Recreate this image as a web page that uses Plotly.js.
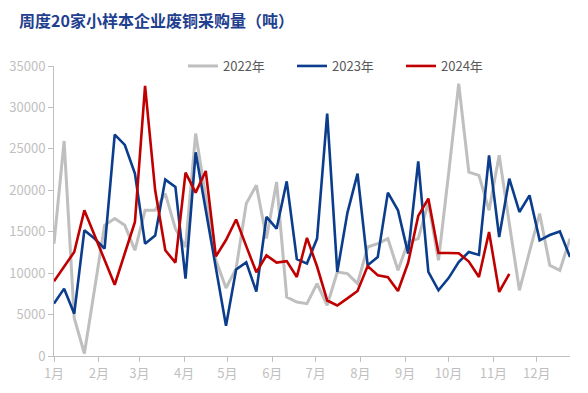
<!DOCTYPE html>
<html>
<head>
<meta charset="utf-8">
<script src="https://cdn.plot.ly/plotly-3.0.1.min.js"></script>
<style>html,body{margin:0;padding:0;background:#fff;}#chart{width:588px;height:393px;}</style>
</head>
<body>
<div id="chart"></div>
<script>
// Week index (1..52) of each weekly observation
const weeks = Array.from({length: 52}, (_, i) => i + 1);

const series2022 = [13560, 25950, 4600, 300, 8000, 15770, 16580, 15770, 12760, 17580,
  17580, 19600, 15370, 13150, 26840, 19300, 11550, 8200, 10550, 18390,
  20600, 14170, 21000, 7120, 6520, 6320, 8740, 6120, 10140, 9940,
  8740, 13150, 13560, 14170, 10340, 13760, 14170, 18500, 11550, 22000,
  32870, 22200, 21800, 17580, 24220, 16000, 7930, 12600, 17180, 10950,
  10340, 14170];

const series2023 = [6320, 8130, 5110, 15170, 14170, 12960, 26720, 25470, 22010, 13560,
  14530, 21290, 20400, 9340, 24580, 17700, 10700, 3650, 10450, 11300,
  7770, 16780, 15370, 21080, 11700, 11150, 14170, 29250, 10140, 17280,
  22010, 10950, 11950, 19720, 17580, 12360, 23500, 10140, 7930, 9400,
  11350, 12550, 12200, 24220, 14360, 21410, 17380, 19390, 13960, 14600,
  15030, 11950];

const series2024 = [9020, 10800, 12550, 17580, 14650, 11550, 8600, 12400, 16170, 32590,
  20000, 12760, 11270, 22130, 19720, 22330, 12030, 14000, 16480, 13260,
  10100, 12150, 11270, 11450, 9540, 14260, 10800, 6700, 6100, 6950,
  7850, 10850, 9740, 9500, 7850, 11250, 16900, 19000, 12430, 12430,
  12400, 11400, 9540, 14970, 7730, 9900];

const seriesNames = ['2022年', '2023年', '2024年'];
const monthTickDates = ['2023-01-01','2023-02-01','2023-03-01','2023-04-01','2023-05-01','2023-06-01',
  '2023-07-01','2023-08-01','2023-09-01','2023-10-01','2023-11-01','2023-12-01'];
const monthLabels = ['1月','2月','3月','4月','5月','6月','7月','8月','9月','10月','11月','12月'];
const yTicks = [0, 5000, 10000, 15000, 20000, 25000, 30000, 35000];

// Map week index to a date on a common (non-leap) calendar year
function weekDate(w) {
  const d = new Date(Date.UTC(2023, 0, 1 + 7 * (w - 1)));
  return d.toISOString().slice(0, 10);
}
const xDates = weeks.map(weekDate);

const colors = ['#bfbfbf', '#0b3d8c', '#c00000'];
const widths = [3, 2.6, 2.6];
const data = [series2022, series2023, series2024].map((vals, k) => ({
  type: 'scatter',
  mode: 'lines',
  name: seriesNames[k],
  x: xDates.slice(0, vals.length),
  y: vals,
  line: {color: colors[k], width: widths[k]},
  hoverinfo: 'skip'
}));

const layout = {
  width: 588,
  height: 393,
  margin: {l: 54, r: 18, t: 66, b: 37},
  paper_bgcolor: '#ffffff',
  plot_bgcolor: '#ffffff',
  font: {family: '"Noto Sans CJK SC", "Noto Sans", sans-serif', color: '#bfbfbf', size: 13},
  title: {
    text: '<b>周度20家小样本企业废铜采购量（吨）</b>',
    x: 19 / 588, xanchor: 'left', xref: 'container',
    y: 1 - 21 / 393, yanchor: 'middle', yref: 'container',
    font: {family: '"Noto Sans CJK SC", sans-serif', size: 16, color: '#1f3f8f'}
  },
  showlegend: true,
  legend: {
    orientation: 'h',
    x: (183 - 54) / 516, xanchor: 'left',
    y: 1.0, yanchor: 'middle',
    font: {size: 13, color: '#595959'},
    bgcolor: 'rgba(0,0,0,0)',
    entrywidth: 64, entrywidthmode: 'pixels',
    traceorder: 'normal'
  },
  xaxis: {
    type: 'date',
    range: ['2023-01-01', '2023-12-24'],
    tickmode: 'array',
    tickvals: monthTickDates,
    ticktext: monthLabels,
    showgrid: false,
    zeroline: false,
    showline: true,
    linecolor: '#bfbfbf',
    linewidth: 1,
    ticks: 'outside',
    ticklen: 5,
    tickcolor: '#bfbfbf',
    tickfont: {size: 13, color: '#bfbfbf'},
    fixedrange: true
  },
  yaxis: {
    range: [0, 35000],
    tickmode: 'array',
    tickvals: yTicks,
    ticktext: yTicks.map(String),
    showgrid: false,
    zeroline: false,
    showline: true,
    linecolor: '#bfbfbf',
    linewidth: 1,
    ticks: 'outside',
    ticklen: 5,
    tickcolor: '#bfbfbf',
    tickfont: {size: 13, color: '#bfbfbf'},
    fixedrange: true
  }
};

Plotly.newPlot('chart', data, layout, {staticPlot: true, displayModeBar: false});
</script>
</body>
</html>
